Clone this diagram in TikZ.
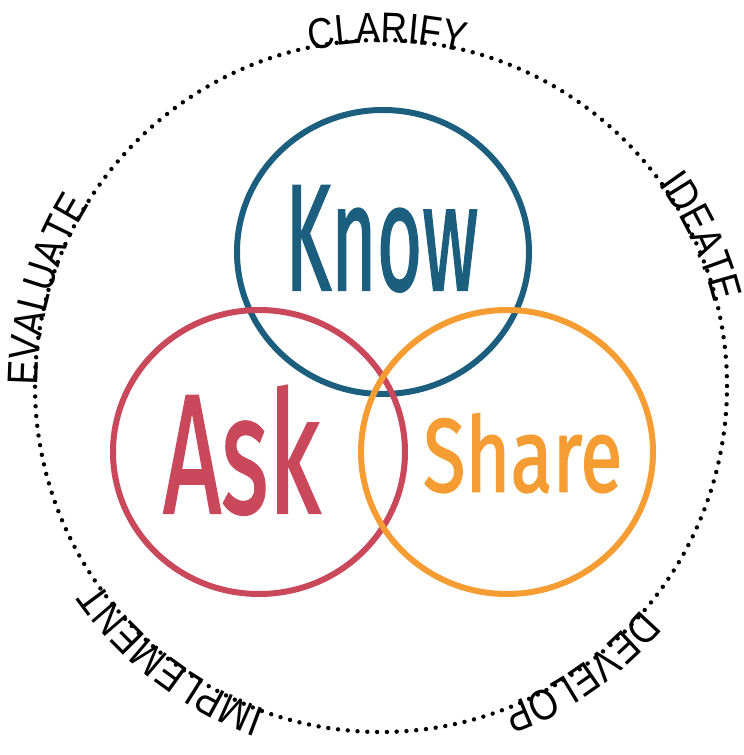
\documentclass[tikz,border=0pt]{standalone}
\usepackage{fontspec}
\usepackage{graphicx}
\setmainfont{Liberation Sans}
\newfontfamily\arcfont[FakeStretch=0.85]{Liberation Sans}
\newfontfamily\wordfont[FakeBold=1.6]{Fira Sans}
\usetikzlibrary{decorations.text}
\definecolor{knowcol}{HTML}{1B5E7E}
\definecolor{askcol}{HTML}{C9485C}
\definecolor{sharecol}{HTML}{F59C32}
\tikzset{
  ring/.style={line width=6pt},
  dotring/.style={line width=4.4pt, line cap=round, dash pattern=on 0pt off 9.8pt},
  word/.style={inner sep=0pt, anchor=south west},
}
\newcommand{\arclabel}[2]{%
  \path[decorate, decoration={text along path, text align=center,
    text={|\arcfont\fontsize{43}{43}\selectfont|#2}}]
    (C) ++(#1+45:343pt) arc[start angle=#1+45, end angle=#1-45, radius=343pt];}
\begin{document}
\begin{tikzpicture}[x=1pt,y=1pt]
\useasboundingbox (0,0) rectangle (744,755);
\coordinate (C) at (381,369);
% outer dotted circle
\draw[dotring] (C) circle[radius=346];
% three circles
\draw[ring, knowcol] (383,503) ellipse[x radius=146, y radius=142];
\draw[ring, askcol] (259,303) ellipse[x radius=146, y radius=142];
\draw[ring, sharecol] (507,303) ellipse[x radius=146, y radius=142];
% words
\node[word, text=knowcol] (know) at (285,463) {\resizebox{193pt}{104pt}{\wordfont Know}};
\node[word, text=askcol] (ask) at (163,240) {\resizebox{157pt}{127pt}{\wordfont Ask}};
\node[word, text=sharecol] (share) at (423,262) {\resizebox{199pt}{78pt}{\wordfont Share}};
% curved labels
\arclabel{89}{CLARIFY}
\arclabel{25}{IDEATE}
\arclabel{-55}{DEVELOP}
\arclabel{-127.5}{IMPLEMENT}
\arclabel{164}{EVALUATE}
\end{tikzpicture}
\end{document}
